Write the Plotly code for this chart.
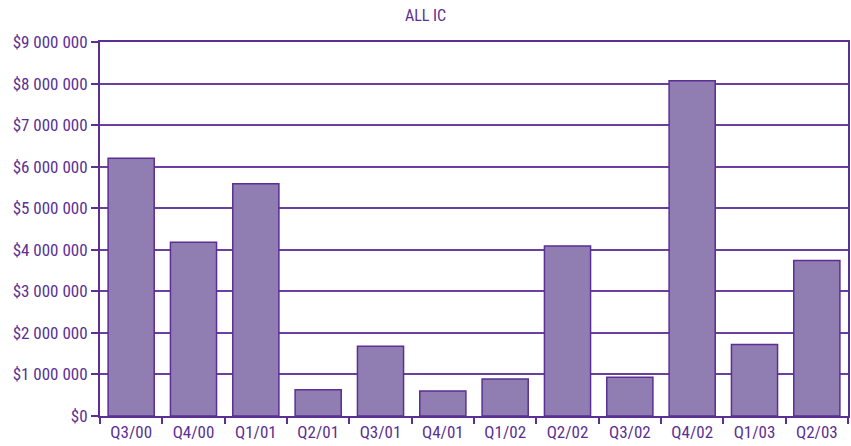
import plotly.graph_objects as go

categories = ["Q3/00", "Q4/00", "Q1/01", "Q2/01", "Q3/01", "Q4/01",
              "Q1/02", "Q2/02", "Q3/02", "Q4/02", "Q1/03", "Q2/03"]
values = [6200000, 4180000, 5590000, 630000, 1680000, 600000,
          890000, 4090000, 930000, 8070000, 1720000, 3740000]
tick_vals = [0, 1000000, 2000000, 3000000, 4000000, 5000000,
             6000000, 7000000, 8000000, 9000000]
tick_text = ["$0", "$1 000 000", "$2 000 000", "$3 000 000", "$4 000 000",
             "$5 000 000", "$6 000 000", "$7 000 000", "$8 000 000", "$9 000 000"]

purple = "#5b2f93"
font = "Liberation Sans Narrow, Roboto Condensed, Arial Narrow, sans-serif"

fig = go.Figure(go.Bar(
    x=categories, y=values,
    marker=dict(color="#907db2", line=dict(color=purple, width=1.5)),
))
fig.update_layout(
    width=851, height=446,
    margin=dict(l=100, r=1, t=42, b=30),
    paper_bgcolor="white", plot_bgcolor="white",
    bargap=0.26,
    showlegend=False,
    title=dict(text="ALL IC", x=0.5, xanchor="center", y=0.978, yanchor="top",
               font=dict(family=font, size=16, color=purple)),
    font=dict(family=font, size=17, color=purple),
)
fig.update_xaxes(
    type="category", tickson="boundaries", ticks="outside", ticklen=6,
    tickcolor=purple, tickwidth=1.5,
    showline=True, linecolor=purple, linewidth=2, mirror=True,
    showgrid=False, tickfont=dict(family=font, size=17, color=purple),
)
fig.update_yaxes(
    range=[0, 9000000], tickvals=tick_vals, ticktext=tick_text,
    ticks="outside", ticklen=7, tickcolor=purple, tickwidth=1.5,
    showline=True, linecolor=purple, linewidth=2, mirror=True,
    showgrid=True, gridcolor="#6a3fa0", gridwidth=1.5,
    zeroline=False, tickfont=dict(family=font, size=17, color=purple),
)
fig.write_html("out.html")
